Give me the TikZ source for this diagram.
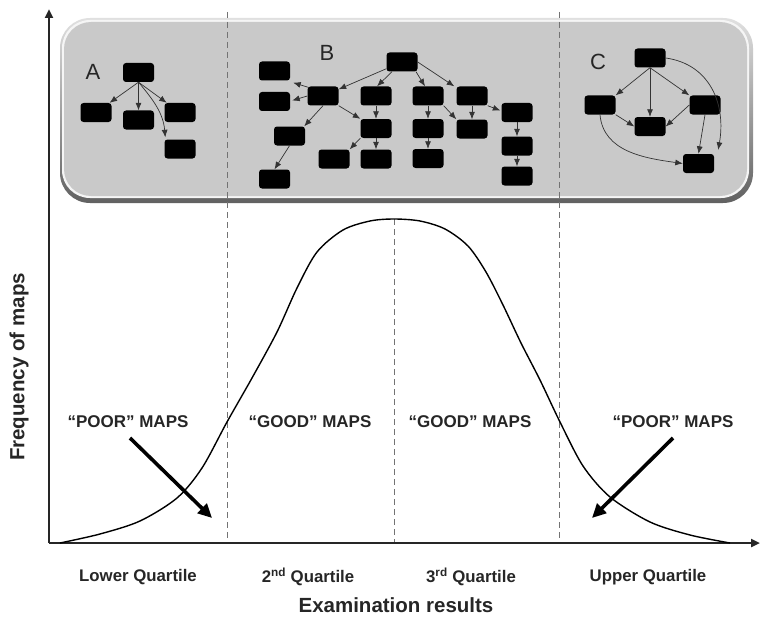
\documentclass[tikz,border=0pt]{standalone}
\usepackage{fontspec}
\setmainfont{Liberation Sans}
\usetikzlibrary{arrows.meta,calc}

\begin{document}
\begin{tikzpicture}[x=1pt,y=-1pt,
  gnode/.style={fill=black,rounded corners=3pt,minimum width=31pt,minimum height=19pt,inner sep=0pt},
  gedge/.style={draw=black!80,line width=0.7pt,-{Latex[length=7.5pt,width=6pt]}},
  axisline/.style={draw=black!85,line width=2.4pt,-{Triangle[length=9pt,width=8pt]}},
  qline/.style={draw=black!55,line width=0.8pt,dash pattern=on 6pt off 4pt},
  bigarrow/.style={draw=black,line width=3.6pt,-{Triangle[length=14pt,width=13pt]}},
  maplabel/.style={font=\fontsize{17}{19}\selectfont\bfseries,text=black!85},
  quartlabel/.style={font=\fontsize{16.8}{19}\selectfont\bfseries,text=black!85},
  axislabel/.style={font=\fontsize{20.5}{23}\selectfont\bfseries,text=black!85},
  letter/.style={font=\fontsize{22}{25}\selectfont,text=black!85}]
\useasboundingbox (0,0) rectangle (761,618);

% ---- bevelled panel holding the three example maps
\shade[rounded corners=30pt,top color=black!12,bottom color=black!62] (60,18) rectangle (753,203);
\fill[rounded corners=28pt,white!80!black!20] (62,20) rectangle (749,198);
\fill[rounded corners=27pt,fill={rgb,255:red,201;green,201;blue,201}] (64,22) rectangle (747,196);

% ---- quartile boundaries
\coordinate (q1t) at (227,12);  \coordinate (q1b) at (227,543);
\coordinate (q2t) at (394,219); \coordinate (q2b) at (394,543);
\coordinate (q3t) at (559,12);  \coordinate (q3b) at (559,543);
\draw[qline] (q1t) -- (q1b);
\draw[qline] (q2t) -- (q2b);
\draw[qline] (q3t) -- (q3b);

% ---- map A
\node[letter] (LA) at (93,72) {A};
\node[gnode] (A0) at (138.5,72.5) {};
\node[gnode] (A1) at (96,112.5) {};
\node[gnode] (A2) at (138.5,120) {};
\node[gnode] (A3) at (180,112.5) {};
\node[gnode] (A4) at (180,149) {};
\draw[gedge] (A0.south) -- (A1);
\draw[gedge] (A0.south) -- (A2.north);
\draw[gedge] (A0.south) -- (A3);
\draw[gedge] (A0.south) to[out=-50,in=95] ([shift={(1,-2)}]A4.north west);

% ---- map B
\node[letter] (LB) at (327,53) {B};
\node[gnode] (B0) at (402,62) {};
\node[gnode] (B1) at (274.5,71) {};
\node[gnode] (B2) at (274.5,101.5) {};
\node[gnode] (B3) at (323,96) {};
\node[gnode] (B4) at (376,96) {};
\node[gnode] (B5) at (376,128.5) {};
\node[gnode] (B6) at (289.5,136) {};
\node[gnode] (B7) at (334,159) {};
\node[gnode] (B8) at (376,159) {};
\node[gnode] (B9) at (274.5,179) {};
\node[gnode] (B10) at (428,96) {};
\node[gnode] (B11) at (428,128.5) {};
\node[gnode] (B12) at (428,158.5) {};
\node[gnode] (B13) at (472,96) {};
\node[gnode] (B14) at (472,129) {};
\node[gnode] (B15) at (517,112.5) {};
\node[gnode] (B16) at (517,146) {};
\node[gnode] (B17) at (517,176) {};
\draw[gedge] (B0) -- (B3);
\draw[gedge] ([shift={(-10,0)}]B0.south) -- ([shift={(1,0)}]B4.north);
\draw[gedge] ([shift={(14,0)}]B0.south) -- ([shift={(-3,0)}]B10.north);
\draw[gedge] (B0.east) -- ([shift={(-2,0)}]B13.north west);
\draw[gedge] ([shift={(1,1)}]B3.north west) -- ([shift={(3,2)}]B1.south east);
\draw[gedge] (B3.west) -- ([shift={(2,-1)}]B2.east);
\draw[gedge] (B3.south) -- ([shift={(-1,0)}]B6.north east);
\draw[gedge] (B3.south east) -- (B5.north west);
\draw[gedge] (B4) -- (B5);
\draw[gedge] (B5.south west) -- (B7.north east);
\draw[gedge] (B5) -- (B8);
\draw[gedge] (B6.south) -- (B9.north);
\draw[gedge] (B10) -- (B11);
\draw[gedge] (B11) -- (B12);
\draw[gedge] (B10.south east) -- (B14.north west);
\draw[gedge] (B13) -- (B14);
\draw[gedge] (B13.south east) -- ([shift={(-1,-2)}]B15.west);
\draw[gedge] (B15) -- (B16);
\draw[gedge] (B16) -- (B17);

% ---- map C
\node[letter] (LC) at (598,62) {C};
\node[gnode] (C0) at (650,58) {};
\node[gnode] (C1) at (600,105) {};
\node[gnode] (C2) at (650,126.5) {};
\node[gnode] (C3) at (705,105) {};
\node[gnode] (C4) at (698.5,163.5) {};
\draw[gedge] (C0.south) -- (C1.north east);
\draw[gedge] (C0.south) -- (C2.north);
\draw[gedge] (C0.south) -- (C3.north west);
\draw[gedge] (C0.east) to[out=-8,in=80,looseness=1.1] ([shift={(4,-4)}]C4.north east);
\draw[gedge] (C1.south east) -- (C2.west);
\draw[gedge] (C3.west) -- (C2.east);
\draw[gedge] (C3.south) -- (C4.north);
\draw[gedge] (C1.south) to[out=-85,in=172] (C4.west);

% ---- axes
\coordinate (O) at (49,543);
\coordinate (ytop) at (49,9);
\coordinate (xend) at (760,543);
\draw[axisline] (O) -- (ytop);
\draw[axisline] (O) -- (xend);

% ---- distribution of map quality
\draw[black,line width=1.4pt] plot[smooth,tension=0.5] coordinates {
  (60,543) (100,534) (140,521) (177,498) (202,468) (227,422) (252,378)
  (277,332) (297,288) (317,252) (343,230) (370,221) (394,219) (420,221)
  (445,229) (468,246) (486,272) (503,305) (521,343) (540,380) (560,422)
  (583,466) (610,497) (650,522) (690,535) (730,543)};

% ---- labels on the plot
\node[maplabel] (poorL) at (128,422) {“POOR” MAPS};
\node[maplabel] (goodL) at (310,422) {“GOOD” MAPS};
\node[maplabel] (goodR) at (470,422) {“GOOD” MAPS};
\node[maplabel] (poorR) at (673,422) {“POOR” MAPS};
\coordinate (pa1) at (130,438); \coordinate (pa2) at (212,518);
\coordinate (pb1) at (673,438); \coordinate (pb2) at (592,518);
\draw[bigarrow] (pa1) -- (pa2);
\draw[bigarrow] (pb1) -- (pb2);

\node[quartlabel] (ql1) at (138,577) {Lower Quartile};
\node[quartlabel] (ql2) at (308,577) {2\textsuperscript{nd} Quartile};
\node[quartlabel] (ql3) at (471,577) {3\textsuperscript{rd} Quartile};
\node[quartlabel] (ql4) at (648,577) {Upper Quartile};

\node[axislabel] (xlab) at (396,605) {Examination results};
\node[axislabel,rotate=90] (ylab) at (19,367) {Frequency of maps};
\end{tikzpicture}
\end{document}
